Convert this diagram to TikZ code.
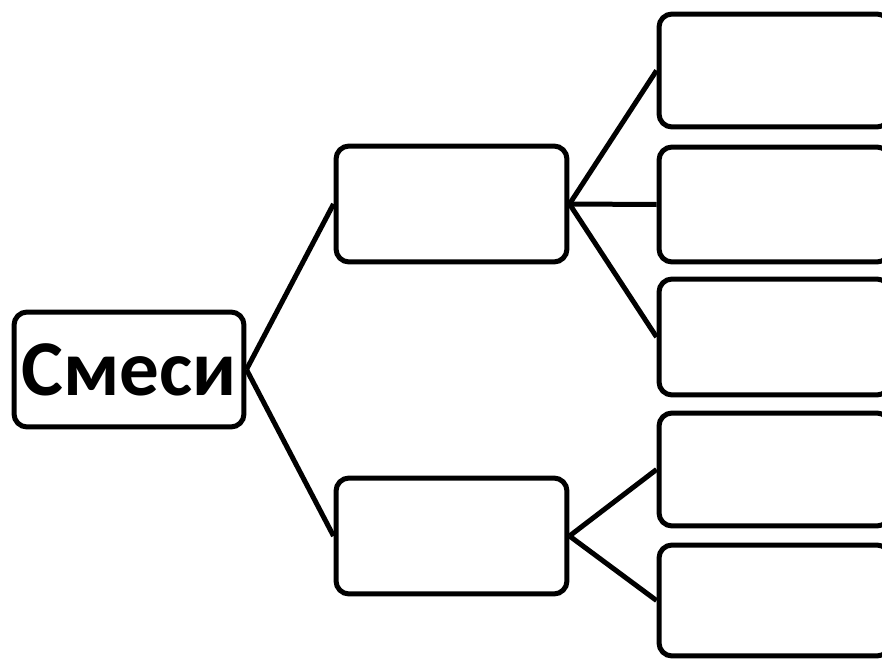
\documentclass[tikz,border=0pt]{standalone}
\usepackage{fontspec}
\setmainfont{Carlito}
\usepackage{tikz}
\tikzset{
  box/.style={draw=black, line width=0.1cm, rounded corners=0.26cm, fill=white,
    minimum width=4.62cm, minimum height=2.3cm, inner sep=0pt},
  link/.style={line width=0.1cm}
}

\begin{document}
\begin{tikzpicture}[x=0.02cm, y=-0.02cm]
		\useasboundingbox (0,0) rectangle (882,659);
		\clip (0,0) rectangle (882,659);
		
		% корень
		\node[box, minimum width=4.6cm] (smesi) at (129,369.5) {\fontsize{45}{50}\selectfont\bfseries Смеси};
		
		% второй уровень
		\node[box, minimum height=2.32cm] (g1) at (451.5,204) {};
		\node[box, minimum height=2.32cm] (g2) at (451.5,536) {};
		
		% третий уровень
		\node[box, minimum height=2.26cm] (r1) at (774.5,70.5) {};
		\node[box] (r2) at (774.5,204.5) {};
		\node[box, minimum height=2.32cm] (r3) at (774.5,337) {};
		\node[box, minimum height=2.26cm] (r4) at (774.5,469.5) {};
		\node[box, minimum height=2.22cm] (r5) at (774.5,600.5) {};
		
		% ветви
		\draw[link] (smesi.east) -- (g1.west);
		\draw[link] (smesi.east) -- (g2.west);
		\foreach \r in {r1,r2,r3} \draw[link] (g1.east) -- (\r.west);
		\foreach \r in {r4,r5} \draw[link] (g2.east) -- (\r.west);
	\end{tikzpicture}
\end{document}
